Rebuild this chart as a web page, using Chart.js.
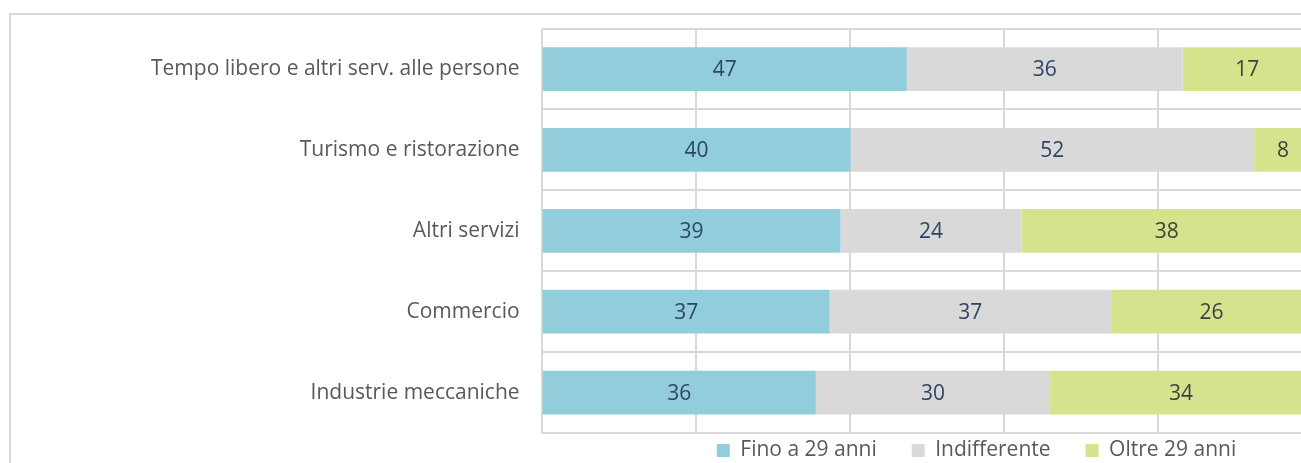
<!DOCTYPE html>
<html>
<head>
<meta charset="utf-8">
<script src="https://cdn.jsdelivr.net/npm/chart.js@4"></script>
<style>
  html, body { margin: 0; padding: 0; background: #fff; overflow: hidden; width: 1301px; height: 463px; }
  #frame { position: absolute; left: 9px; top: 13px; width: 1960px; height: 600px; border: 2px solid #d9d9d9; box-sizing: border-box; }
  #wrap { position: absolute; left: 0; top: -21px; width: 1932px; height: 505px; }
</style>
</head>
<body>
<div id="frame"><div id="wrap"><canvas id="chart"></canvas></div></div>
<script>
// Settori e quote (%)
const categories = ['Tempo libero e altri serv. alle persone', 'Turismo e ristorazione', 'Altri servizi', 'Commercio', 'Industrie meccaniche'];
const fino29 = [47.4, 40.1, 38.8, 37.4, 35.6];
const indifferente = [35.8, 52.4, 23.5, 36.5, 30.4];
const oltre29 = [16.8, 7.5, 37.7, 26.1, 34.0];
const seriesNames = ['Fino a 29 anni', 'Indifferente', 'Oltre 29 anni'];
const xTicks = [0, 20, 40, 60, 80, 100];

const FONT = '"Open Sans", sans-serif';

// draws the value in the middle of each segment
const barLabels = {
    id: 'barLabels',
    afterDatasetsDraw(chart) {
        const ctx = chart.ctx;
        ctx.save();
        ctx.font = '21px ' + FONT;
        ctx.textAlign = 'center';
        ctx.textBaseline = 'middle';
        chart.data.datasets.forEach((ds, i) => {
            const meta = chart.getDatasetMeta(i);
            meta.data.forEach((bar, j) => {
                const cx = (bar.x + bar.base) / 2;
                ctx.fillStyle = ds.labelColor;
                ctx.fillText(Math.round(ds.data[j]), cx, bar.y + 1);
            });
        });
        ctx.restore();
    }
};

// pull the legend up under the plot and centre it like the original
const legendShift = {
    id: 'legendShift',
    afterLayout(chart) {
        const lg = chart.legend;
        const pad = lg.options.labels.padding;
        const wanted = chart.chartArea.bottom + 18 - pad - 11;
        const dy = lg.top - wanted;
        lg.top -= dy;
        lg.bottom -= dy;
        const dx = 256;
        lg.left += dx;
        lg.right += dx;
    }
};

const ctx = document.getElementById('chart').getContext('2d');
new Chart(ctx, {
    type: 'bar',
    data: {
        labels: categories,
        datasets: [{
            label: seriesNames[0],
            data: fino29,
            backgroundColor: '#92cddc',
            labelColor: '#2e4566'
        }, {
            label: seriesNames[1],
            data: indifferente,
            backgroundColor: '#d9d9d9',
            labelColor: '#2e4566'
        }, {
            label: seriesNames[2],
            data: oltre29,
            backgroundColor: '#d7e38c',
            labelColor: '#404040'
        }]
    },
    options: {
        indexAxis: 'y',
        responsive: true,
        maintainAspectRatio: false,
        animation: false,
        datasets: {
            bar: { categoryPercentage: 1, barPercentage: 0.54 }
        },
        layout: {
            padding: { top: 0, right: 631, left: 118, bottom: 0 }
        },
        scales: {
            x: {
                stacked: true,
                min: 0,
                max: 100,
                afterBuildTicks: axis => { axis.ticks = xTicks.map(v => ({ value: v })); },
                ticks: { display: false },
                grid: { color: '#d9d9d9', lineWidth: 2, drawTicks: false },
                border: { display: false }
            },
            y: {
                stacked: true,
                ticks: {
                    color: '#595959',
                    font: { family: FONT, size: 21 },
                    padding: 22
                },
                grid: { color: '#d9d9d9', lineWidth: 2, offset: true, drawTicks: false },
                border: { display: false }
            }
        },
        plugins: {
            legend: {
                position: 'bottom',
                labels: {
                    color: '#595959',
                    font: { family: FONT, size: 21 },
                    boxWidth: 13,
                    boxHeight: 13,
                    padding: 35,
                    useBorderRadius: false
                }
            },
            tooltip: { enabled: false }
        }
    },
    plugins: [barLabels, legendShift]
});
</script>
</body>
</html>
